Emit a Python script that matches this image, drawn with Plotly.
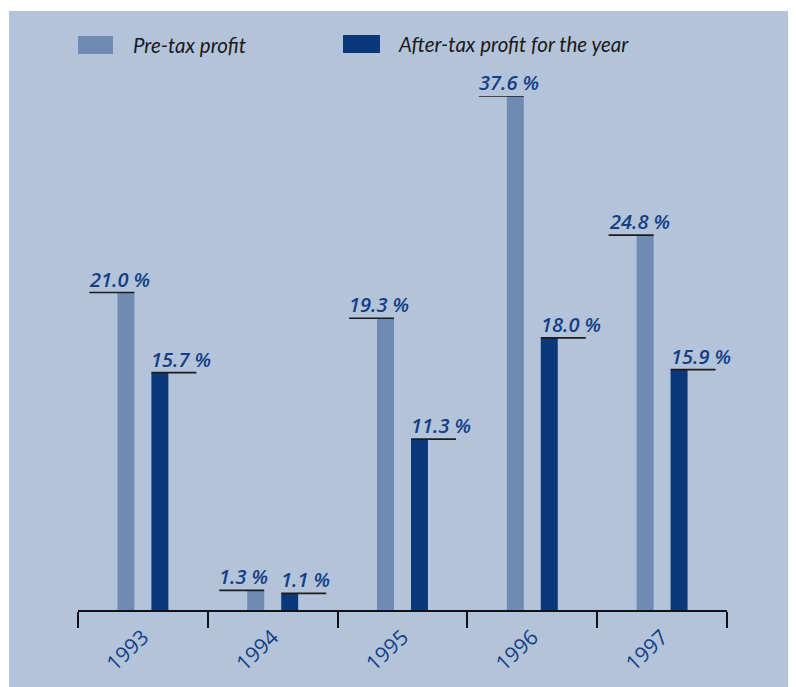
import plotly.graph_objects as go

years = ["1993", "1994", "1995", "1996", "1997"]
pretax = [21.0, 1.3, 19.3, 37.6, 24.8]
aftertax = [15.7, 1.1, 11.3, 18.0, 15.9]
series_names = ["Pre-tax profit", "After-tax profit for the year"]
y_top = 34.0  # axis cut (tallest bar is truncated in the original)

OFF = 8  # page body margin
W, H = 796 - OFF, 687 - OFF
ML, MR, MT, MB = 78 - OFF, 69, 96 - OFF, 77
PW, PH = W - ML - MR, H - MT - MB

BG = "#b3c3d9"
C_LIGHT = "#6f8bb4"
C_DARK = "#0a387b"
C_TEXT = "#133f85"

def px_x(px):  # page pixel -> paper
    return (px - OFF - ML) / PW

def px_y(py):
    return (H - MB - (py - OFF)) / PH

fig = go.Figure()
fig.add_bar(x=years, y=pretax, name=series_names[0], marker_color=C_LIGHT, marker_line_width=0)
fig.add_bar(x=years, y=aftertax, name=series_names[1], marker_color=C_DARK, marker_line_width=0)

shapes = []
annotations = []
# background panel
shapes.append(dict(type="rect", xref="paper", yref="paper", layer="below",
                   x0=px_x(9), x1=px_x(820), y0=px_y(710), y1=px_y(11),
                   fillcolor=BG, line_width=0))

cat_px = PW / len(years)
half_bar = 8.5 / cat_px
line_len = 45 / cat_px
off = 17 / cat_px
lab_font = dict(family="Open Sans", size=20, color=C_TEXT, style="italic", weight=600)
for i, (a, b) in enumerate(zip(pretax, aftertax)):
    ya = min(a, y_top)
    xr = i - off + half_bar
    xl = xr - line_len
    shapes.append(dict(type="line", xref="x", yref="y", x0=xl, x1=xr, y0=ya, y1=ya,
                       line=dict(color="#1c1c1c", width=1.6)))
    annotations.append(dict(xref="x", yref="y", x=xl, y=ya, text=f"{a:.1f} %",
                            showarrow=False, xanchor="left", yanchor="bottom",
                            font=lab_font, xshift=-2, yshift=-2))
    yb = min(b, y_top)
    xl2 = i + off - half_bar
    xr2 = xl2 + line_len
    shapes.append(dict(type="line", xref="x", yref="y", x0=xl2, x1=xr2, y0=yb, y1=yb,
                       line=dict(color="#1c1c1c", width=1.6)))
    annotations.append(dict(xref="x", yref="y", x=xl2, y=yb, text=f"{b:.1f} %",
                            showarrow=False, xanchor="left", yanchor="bottom",
                            font=lab_font, xshift=-2, yshift=-2))

# custom legend
leg = [(78, 113, 36, 54, C_LIGHT, 133), (343, 380, 35, 53, C_DARK, 398)]
for (x0, x1, y0, y1, c, tx), name in zip(leg, series_names):
    shapes.append(dict(type="rect", xref="paper", yref="paper",
                       x0=px_x(x0), x1=px_x(x1), y0=px_y(y1), y1=px_y(y0),
                       fillcolor=c, line_width=0))
    annotations.append(dict(xref="paper", yref="paper", x=px_x(tx - 2), y=px_y((y0 + y1) / 2),
                            text=name, showarrow=False, xanchor="left", yanchor="middle",
                            font=dict(family="Lato", size=20.5, color="#1a1a1a", style="italic")))

fig.update_layout(
    width=W, height=H,
    margin=dict(l=ML, r=MR, t=MT, b=MB),
    paper_bgcolor="white", plot_bgcolor="rgba(0,0,0,0)",
    barmode="group", bargap=0.477, bargroupgap=0.5,
    showlegend=False,
    shapes=shapes, annotations=annotations,
    xaxis=dict(type="category", range=[-0.5, 4.5], showline=True, linecolor="#111",
               linewidth=1.6, ticks="outside", ticklen=16, tickwidth=1.6, tickcolor="#111",
               tickson="boundaries", showgrid=False, tickangle=-43, ticklabelstandoff=5,
               tickfont=dict(family="Open Sans", size=21, color=C_TEXT, weight=500)),
    yaxis=dict(range=[0, y_top], visible=False, showgrid=False, zeroline=False),
)

fig.write_html("out.html")
